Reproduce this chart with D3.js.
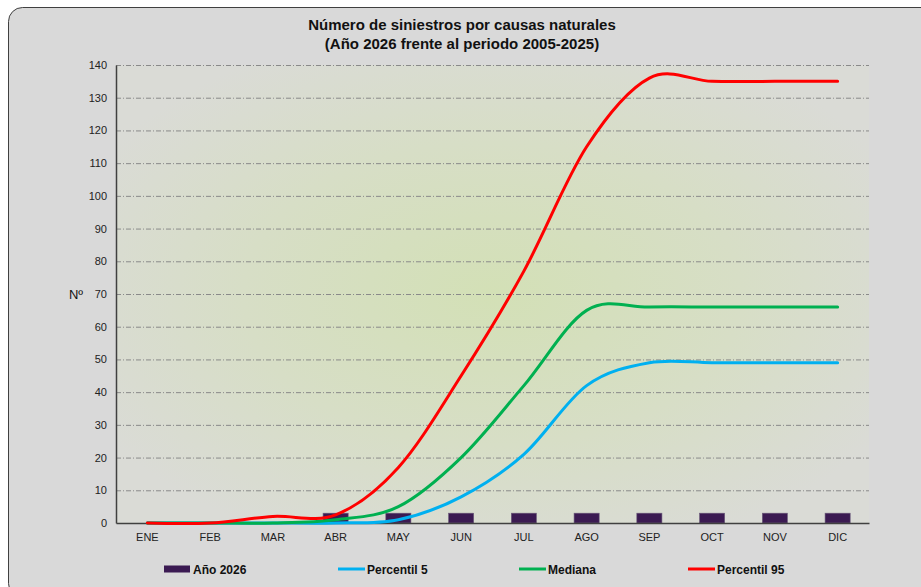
<!DOCTYPE html>
<html>
<head>
<meta charset="utf-8">
<script src="https://cdn.jsdelivr.net/npm/d3@7"></script>
<style>
  body { margin: 0; background: #fff; }
  svg { display: block; font-family: Arial, "Liberation Sans", sans-serif; }
</style>
</head>
<body>
<svg id="chart" width="921" height="587"></svg>
<script>
const months = ['ENE', 'FEB', 'MAR', 'ABR', 'MAY', 'JUN', 'JUL', 'AGO', 'SEP', 'OCT', 'NOV', 'DIC']
const year2026 = [0, 0, 0, 3, 3, 3, 3, 3, 3, 3, 3, 3]
const p5 = [0, 0, 0, 0, 1, 8, 21, 42, 49, 49, 49, 49]
const mediana = [0, 0, 0, 1, 5, 20, 42, 65, 66, 66, 66, 66]
const p95 = [0, 0, 2, 2.5, 17, 45, 77, 115, 136, 135, 135, 135]
const yTicks = d3.range(0, 141, 10)

const series = [
  { name: 'Percentil 5', values: p5, color: '#00b0f0' },
  { name: 'Mediana', values: mediana, color: '#00b050' },
  { name: 'Percentil 95', values: p95, color: '#ff0000' },
]

const svg = d3.select('#chart')
const plot = { left: 116, right: 869, top: 65, bottom: 523 }

// outer frame
svg.append('rect')
  .attr('x', 8.5).attr('y', 7.5)
  .attr('width', 930).attr('height', 590)
  .attr('rx', 14)
  .attr('fill', '#d9d9d9')
  .attr('stroke', '#404040')
  .attr('stroke-width', 1)

const defs = svg.append('defs')
const grad = defs.append('radialGradient')
  .attr('id', 'plotBg')
  .attr('cx', '0.5').attr('cy', '0.5').attr('r', '0.6')
grad.append('stop').attr('offset', '0%').attr('stop-color', '#d3e0b6')
grad.append('stop').attr('offset', '55%').attr('stop-color', '#d7dec6')
grad.append('stop').attr('offset', '100%').attr('stop-color', '#dadbd6')

svg.append('rect')
  .attr('x', plot.left).attr('y', plot.top)
  .attr('width', plot.right - plot.left)
  .attr('height', plot.bottom - plot.top)
  .attr('fill', 'url(#plotBg)')

const x = d3.scaleBand().domain(months).range([plot.left, plot.right])
const y = d3.scaleLinear().domain([0, 140]).range([plot.bottom, plot.top])

// gridlines
svg.append('g')
  .selectAll('line')
  .data(yTicks.filter((d) => d > 0))
  .enter()
  .append('line')
  .attr('x1', plot.left).attr('x2', plot.right)
  .attr('y1', (d) => y(d) + 0.5).attr('y2', (d) => y(d) + 0.5)
  .attr('stroke', '#8a8a8a')
  .attr('stroke-width', 1)
  .attr('stroke-dasharray', '5,2,1,2')

// y axis
const yAxis = svg.append('g')
  .attr('transform', `translate(${plot.left},0)`)
  .call(d3.axisLeft(y).tickValues(yTicks).tickSize(0).tickPadding(9))
yAxis.select('.domain').attr('stroke', '#404040').attr('stroke-width', 1.5)
yAxis.selectAll('text').attr('font-size', 11).attr('fill', '#222')

// bars
svg.append('g')
  .selectAll('rect')
  .data(months.map((m, i) => ({ m, v: year2026[i] })).filter((d) => d.v > 0))
  .enter()
  .append('rect')
  .attr('x', (d) => x(d.m) + x.bandwidth() * 0.3)
  .attr('width', x.bandwidth() * 0.4)
  .attr('y', (d) => y(d.v))
  .attr('height', (d) => y(0) - y(d.v))
  .attr('fill', '#3b1a52')
  .attr('stroke', '#6b5a7a')
  .attr('stroke-width', 0.6)

// x axis
const xAxis = svg.append('g')
  .attr('transform', `translate(0,${plot.bottom})`)
  .call(d3.axisBottom(x).tickSize(0).tickPadding(10))
xAxis.select('.domain').attr('stroke', '#404040').attr('stroke-width', 1.5)
xAxis.selectAll('text').attr('font-size', 11).attr('fill', '#222')

// lines
const line = d3.line()
  .x((d, i) => x(months[i]) + x.bandwidth() / 2)
  .y((d) => y(d))
  .curve(d3.curveCatmullRom.alpha(0))

svg.append('g')
  .selectAll('path')
  .data(series)
  .enter()
  .append('path')
  .attr('d', (d) => line(d.values))
  .attr('fill', 'none')
  .attr('stroke', (d) => d.color)
  .attr('stroke-width', 3)
  .attr('stroke-linecap', 'round')

// title
const title = svg.append('text')
  .attr('x', 462)
  .attr('text-anchor', 'middle')
  .attr('font-size', 15)
  .attr('font-weight', 'bold')
  .attr('fill', '#111')
title.append('tspan').attr('x', 462).attr('y', 30).text('Número de siniestros por causas naturales')
title.append('tspan').attr('x', 462).attr('y', 49).text('(Año 2026 frente al periodo 2005-2025)')

// y label
svg.append('text')
  .attr('x', 76).attr('y', 299)
  .attr('text-anchor', 'middle')
  .attr('font-size', 13)
  .attr('fill', '#111')
  .text('Nº')

// legend
const legend = [
  { name: 'Año 2026', type: 'bar', color: '#3b1a52', x: 164 },
  { name: 'Percentil 5', type: 'line', color: '#00b0f0', x: 338 },
  { name: 'Mediana', type: 'line', color: '#00b050', x: 519 },
  { name: 'Percentil 95', type: 'line', color: '#ff0000', x: 688 },
]
const lg = svg.append('g').selectAll('g').data(legend).enter().append('g')
  .attr('transform', (d) => `translate(${d.x},569)`)
lg.filter((d) => d.type === 'bar').append('rect')
  .attr('x', 0).attr('y', -3.5).attr('width', 26).attr('height', 7)
  .attr('fill', (d) => d.color)
lg.filter((d) => d.type === 'line').append('line')
  .attr('x1', 0).attr('x2', 27).attr('y1', 0).attr('y2', 0)
  .attr('stroke', (d) => d.color).attr('stroke-width', 3)
lg.append('text')
  .attr('x', 29)
  .attr('y', 4.5)
  .attr('font-size', 12)
  .attr('font-weight', 'bold')
  .attr('fill', '#111')
  .text((d) => d.name)
</script>
</body>
</html>
